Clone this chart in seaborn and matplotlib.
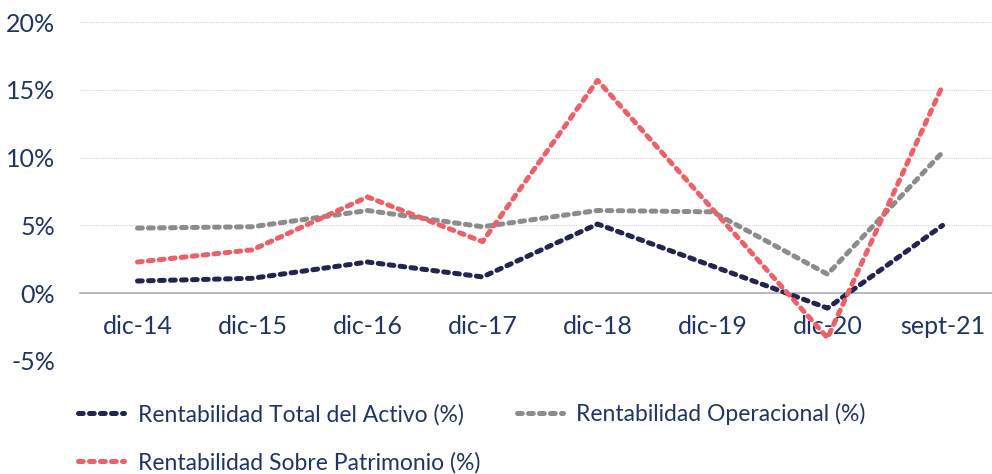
import pandas as pd
import matplotlib.pyplot as plt
import seaborn as sns
from matplotlib.ticker import FixedLocator, FuncFormatter

# Periods on the x axis
periods = ["dic-14", "dic-15", "dic-16", "dic-17", "dic-18", "dic-19", "dic-20", "sept-21"]

# Values (%)
activo = [0.9, 1.1, 2.3, 1.2, 5.1, 2.0, -1.1, 5.0]
operacional = [4.8, 4.9, 6.1, 4.9, 6.1, 6.0, 1.4, 10.4]
patrimonio = [2.3, 3.2, 7.1, 3.8, 15.7, 6.2, -3.3, 15.3]

series_names = ["Rentabilidad Total del Activo (%)",
                "Rentabilidad Operacional (%)",
                "Rentabilidad Sobre Patrimonio (%)"]
y_ticks = [-5, 0, 5, 10, 15, 20]

# Build long-form table
frames = []
for name, vals in zip(series_names, [activo, operacional, patrimonio]):
    frames.append(pd.DataFrame({"pos": range(len(periods)), "valor": vals, "serie": name}))
df = pd.concat(frames, ignore_index=True)

text_color = "#1f3467"
palette = {series_names[0]: "#232452", series_names[1]: "#8c8c8c", series_names[2]: "#ee5f68"}

sns.set_style("white")
plt.rcParams["font.family"] = ["Lato", "DejaVu Sans"]

fig = plt.figure(figsize=(9.92, 4.74), dpi=100)
ax = fig.add_axes([80 / 992, 113 / 474, 1 - 80 / 992, 339 / 474])

sns.lineplot(data=df, x="pos", y="valor", hue="serie",
             palette=palette, linewidth=3.6, sort=False, legend=False, ax=ax)

# short rounded dashes like the original (round caps eat into the gap)
for line in ax.get_lines():
    line.set_linestyle((0, (0.95, 1.25)))
    line.set_dash_capstyle("round")
    line.set_solid_joinstyle("round")

ax.set_xlim(-0.5, 7.43)
ax.set_ylim(-5, 20)

# Gridlines (dotted) at each y tick
for t in y_ticks:
    if t != 0:
        ax.axhline(t, color="#d4d4d4", linestyle=(0, (1, 1)), linewidth=0.8, zorder=0)

for s in ["top", "right", "left"]:
    ax.spines[s].set_visible(False)
ax.spines["bottom"].set_position(("data", 0))
ax.spines["bottom"].set_color("#a9abbd")
ax.spines["bottom"].set_linewidth(1.2)
ax.spines["bottom"].set_zorder(1)

ax.xaxis.set_major_locator(FixedLocator(range(len(periods))))
ax.set_xticklabels(periods)
ax.xaxis.set_minor_locator(FixedLocator([i - 0.5 for i in range(len(periods) + 1)]))
ax.tick_params(axis="x", which="major", length=0, pad=16, labelsize=18, labelcolor=text_color)
ax.tick_params(axis="x", which="minor", length=7, width=1.2, color="#a9abbd", direction="out")

ax.yaxis.set_major_locator(FixedLocator(y_ticks))
ax.yaxis.set_major_formatter(FuncFormatter(lambda v, p: f"{v:.0f}%"))
ax.tick_params(axis="y", length=0, pad=18, labelsize=18, labelcolor=text_color)

ax.set_xlabel("")
ax.set_ylabel("")

# Legend: row order Activo, Operacional / Patrimonio
handles = dict(zip(series_names, ax.get_lines()))
order = [series_names[0], series_names[2], series_names[1]]
leg = fig.legend([handles[n] for n in order], order, ncol=2, loc="upper left",
                 bbox_to_anchor=(69 / 992, 1 - 394 / 474), frameon=False,
                 fontsize=16.5, handlelength=2.0, handletextpad=0.6,
                 columnspacing=1.6, labelspacing=1.15, borderaxespad=0)
for t in leg.get_texts():
    t.set_color(text_color)

fig.savefig("out.png", dpi=100)
